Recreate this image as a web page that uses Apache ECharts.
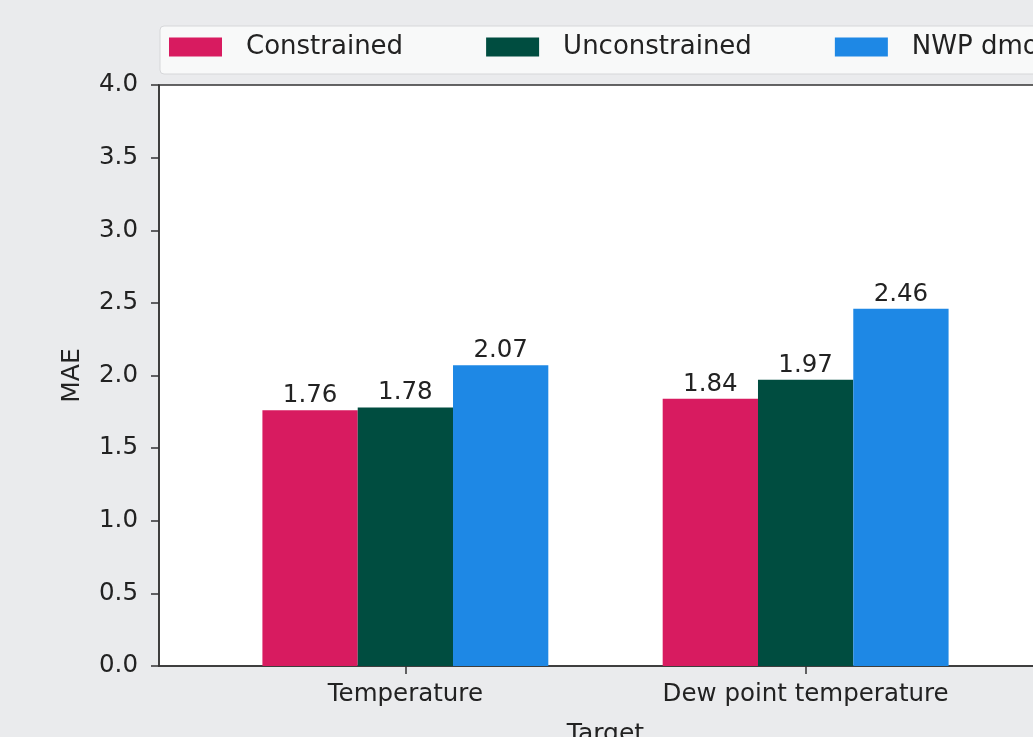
<!DOCTYPE html>
<html>
<head>
<meta charset="utf-8">
<script src="https://cdn.jsdelivr.net/npm/echarts@6/dist/echarts.min.js"></script>
<style>
html,body{margin:0;padding:0;background:#eaebed;overflow:hidden;}
#chart{width:1033px;height:737px;}
</style>
</head>
<body>
<div id="chart"></div>
<script>
// Data
const categories = ['Temperature', 'Dew point temperature'];
const seriesNames = ['Constrained', 'Unconstrained', 'NWP dmo'];
const constrained = [1.76, 1.84];
const unconstrained = [1.78, 1.97];
const nwpDmo = [2.07, 2.46];
const yTicks = [0, 0.5, 1.0, 1.5, 2.0, 2.5, 3.0, 3.5, 4.0];
const colors = ['#d81b60', '#004d40', '#1e88e5'];

const FONT = 'DejaVu Sans';
const TXT = '#222';
const values = [constrained, unconstrained, nwpDmo];

const chart = echarts.init(document.getElementById('chart'), null, {renderer: 'canvas'});

const series = seriesNames.map((name, s) => ({
  name: name,
  type: 'bar',
  barWidth: 95.3,
  barGap: '0%',
  itemStyle: {color: colors[s]},
  label: {
    show: true,
    position: 'top',
    distance: 2,
    fontFamily: FONT,
    fontSize: 24.5,
    color: TXT,
    formatter: p => p.value[1].toFixed(2)
  },
  data: values[s].map((v, i) => [i, v])
}));

chart.setOption({
  backgroundColor: '#eaebed',
  animation: false,
  textStyle: {fontFamily: FONT},
  legend: {
    left: 160,
    top: 26,
    width: 1300,
    orient: 'horizontal',
    icon: 'rect',
    itemWidth: 53,
    itemHeight: 19,
    itemGap: 83,
    padding: [8, 12, 14, 9],
    backgroundColor: '#f8f9f9',
    borderColor: '#d6d7d9',
    borderWidth: 1,
    borderRadius: 4,
    textStyle: {fontFamily: FONT, fontSize: 26, color: TXT, padding: [0, 0, 0, 19]},
    data: seriesNames
  },
  grid: {
    left: 159,
    top: 85,
    bottom: 71,
    width: 893,
    show: true,
    backgroundColor: '#ffffff',
    borderColor: '#333',
    borderWidth: 1.5,
    containLabel: false,
    outerBoundsMode: 'none'
  },
  xAxis: {
    type: 'value',
    min: -0.6155,
    max: 1.6155,
    name: 'Target',
    nameLocation: 'middle',
    nameGap: 56,
    nameTextStyle: {fontFamily: FONT, fontSize: 25, color: TXT, verticalAlign: 'top'},
    splitLine: {show: false},
    axisLine: {show: true, onZero: false, lineStyle: {color: '#333', width: 1.5}},
    axisTick: {show: true, length: 8, lineStyle: {color: '#333', width: 1.5}, customValues: [0, 1]},
    axisLabel: {
      show: true,
      margin: 16,
      fontFamily: FONT,
      fontSize: 24.5,
      color: TXT,
      customValues: [0, 1],
      formatter: v => categories[Math.round(v)] || ''
    }
  },
  yAxis: {
    type: 'value',
    min: 0,
    max: 4,
    interval: 0.5,
    name: 'MAE',
    nameLocation: 'middle',
    nameGap: 74,
    nameRotate: 90,
    nameTextStyle: {fontFamily: FONT, fontSize: 25, color: TXT},
    splitLine: {show: false},
    axisLine: {show: true, onZero: false, lineStyle: {color: '#333', width: 1.5}},
    axisTick: {show: true, length: 8, lineStyle: {color: '#333', width: 1.5}},
    axisLabel: {
      margin: 21,
      fontFamily: FONT,
      fontSize: 24.5,
      color: TXT,
      formatter: v => v.toFixed(1)
    }
  },
  series: series
});
</script>
</body>
</html>
